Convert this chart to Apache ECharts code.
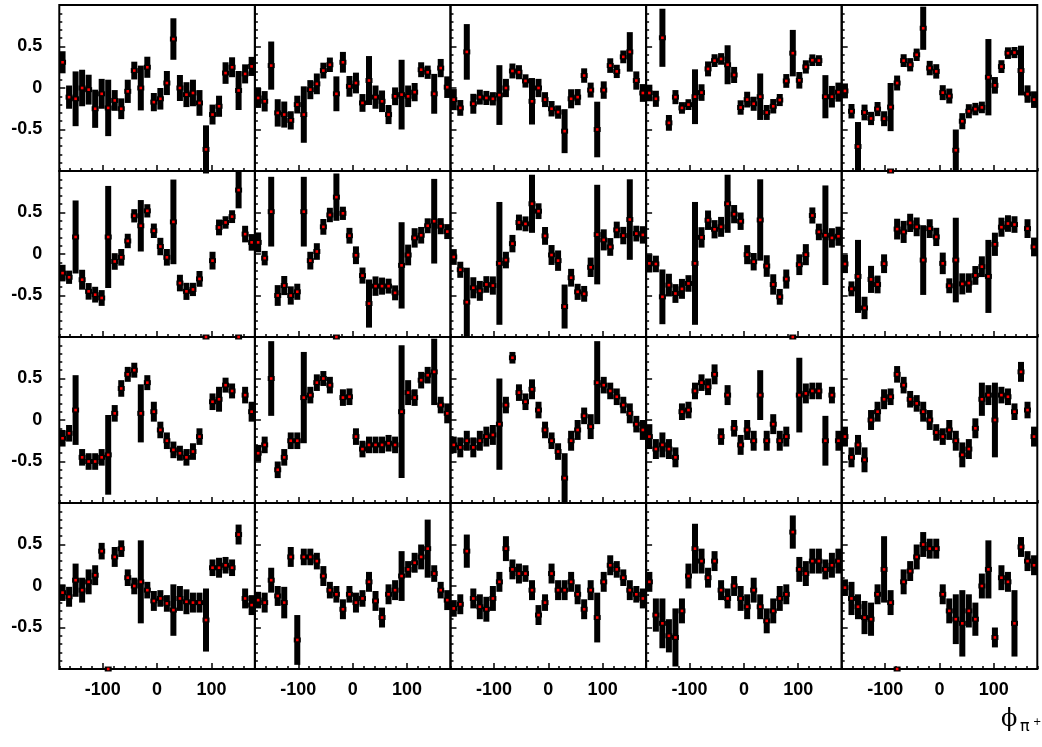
<!DOCTYPE html>
<html>
<head>
<meta charset="utf-8">
<script src="https://cdn.jsdelivr.net/npm/echarts@6/dist/echarts.min.js"></script>
<style>
html,body{margin:0;padding:0;background:#fff;}
#chart{width:1042px;height:747px;}
</style>
</head>
<body>
<div id="chart"></div>
<script>
// phi bin centres (deg), 30 bins of 12 deg
const phiBins = [-174,-162,-150,-138,-126,-114,-102,-90,-78,-66,-54,-42,-30,-18,-6,6,18,30,42,54,66,78,90,102,114,126,138,150,162,174];
const xMajorTicks = [-100, 0, 100];
const yMajorTicks = [-0.5, 0, 0.5];

// asymmetry values and errors, panel (row, column); +-1 with zero error sits on the frame edge
const val_1_1 = [0.31,-0.11,-0.13,0.0,-0.02,-0.25,-0.07,-0.24,-0.15,-0.25,-0.04,0.21,0.0,0.25,-0.17,-0.13,0.06,0.59,0.0,-0.08,-0.06,-0.18,-0.74,-0.32,-0.22,0.18,0.25,-0.03,0.17,0.26];
const err_1_1 = [0.133,0.14,0.33,0.22,0.18,0.23,0.18,0.34,0.125,0.125,0.14,0.107,0.27,0.127,0.11,0.13,0.145,0.25,0.157,0.15,0.16,0.155,0.29,0.12,0.127,0.13,0.12,0.235,0.115,0.115];
const val_1_2 = [-0.12,-0.16,0.27,-0.30,-0.32,-0.39,-0.2,-0.32,-0.02,0.05,0.21,0.28,-0.07,0.31,0.02,0.06,-0.18,0.09,-0.11,-0.16,-0.32,-0.10,-0.08,-0.10,-0.05,0.22,0.19,-0.07,0.24,0.01];
const err_1_2 = [0.12,0.123,0.29,0.165,0.157,0.11,0.107,0.34,0.115,0.125,0.095,0.087,0.21,0.125,0.125,0.125,0.107,0.295,0.14,0.13,0.115,0.107,0.42,0.13,0.11,0.09,0.08,0.24,0.11,0.13];
const val_1_3 = [-0.14,-0.24,0.435,-0.19,-0.11,-0.12,-0.13,-0.085,0.0,0.205,0.19,0.085,-0.16,0.0,-0.14,-0.25,-0.29,-0.52,-0.13,-0.11,0.15,-0.025,-0.50,-0.025,0.27,0.20,0.375,0.435,0.09,-0.06];
const err_1_3 = [0.127,0.095,0.335,0.12,0.09,0.085,0.08,0.36,0.11,0.09,0.085,0.08,0.28,0.11,0.09,0.093,0.08,0.265,0.115,0.097,0.087,0.09,0.335,0.105,0.088,0.08,0.077,0.238,0.11,0.107];
const val_1_4 = [-0.06,-0.13,0.605,-0.42,-0.11,-0.24,-0.2,-0.105,-0.055,0.23,0.33,0.35,0.28,0.157,-0.235,-0.14,-0.19,-0.105,-0.295,-0.22,-0.145,0.085,0.42,0.093,0.254,0.335,0.33,-0.105,-0.105,-0.05];
const err_1_4 = [0.1,0.097,0.35,0.095,0.085,0.07,0.065,0.33,0.1,0.09,0.077,0.07,0.235,0.097,0.087,0.095,0.085,0.28,0.09,0.087,0.073,0.083,0.28,0.1,0.08,0.07,0.065,0.26,0.13,0.115];
const val_1_5 = [-0.035,-0.28,-0.705,-0.295,-0.367,-0.254,-0.37,-0.23,0.06,0.33,0.28,0.40,0.72,0.24,0.20,-0.056,-0.097,-0.75,-0.40,-0.28,-0.254,-0.234,0.13,0.032,0.258,0.42,0.427,0.21,-0.073,-0.14];
const err_1_5 = [0.09,0.087,0.295,0.095,0.08,0.085,0.09,0.29,0.09,0.077,0.08,0.075,0.26,0.087,0.087,0.09,0.09,0.25,0.097,0.085,0.075,0.07,0.46,0.1,0.077,0.07,0.067,0.30,0.105,0.1];

const val_2_1 = [-0.23,-0.28,0.205,-0.31,-0.45,-0.49,-0.53,0.205,-0.09,-0.04,0.157,0.46,0.34,0.52,0.28,0.09,-0.04,0.387,-0.35,-0.45,-0.427,-0.3,-1.0,-0.08,0.32,0.38,0.45,0.77,0.24,0.14];
const err_2_1 = [0.1,0.08,0.44,0.12,0.1,0.095,0.095,0.615,0.1,0.1,0.087,0.08,0.31,0.08,0.087,0.105,0.1,0.51,0.1,0.103,0.08,0.095,0,0.107,0.095,0.075,0.077,0.22,0.1,0.1];
const val_2_2 = [0.14,-0.05,0.51,-0.5,-0.38,-0.5,-0.455,0.51,-0.08,0.03,0.327,0.47,0.685,0.49,0.22,-0.015,-0.26,-0.597,-0.387,-0.387,-0.387,-0.468,-0.137,-0.012,0.194,0.226,0.34,0.395,0.335,0.27];
const err_2_2 = [0.12,0.087,0.42,0.125,0.115,0.11,0.097,0.42,0.107,0.1,0.095,0.087,0.285,0.08,0.095,0.107,0.097,0.29,0.117,0.103,0.09,0.09,0.52,0.125,0.117,0.1,0.09,0.51,0.097,0.09];
const val_2_3 = [-0.036,-0.19,-0.58,-0.407,-0.444,-0.367,-0.38,-0.113,-0.073,0.125,0.38,0.363,0.605,0.516,0.218,-0.012,-0.08,-0.633,-0.286,-0.456,-0.48,-0.16,0.234,0.17,0.085,0.29,0.222,0.415,0.246,0.23];
const err_2_3 = [0.095,0.097,0.415,0.127,0.12,0.1,0.11,0.74,0.1,0.105,0.095,0.09,0.35,0.095,0.107,0.12,0.123,0.265,0.107,0.097,0.095,0.117,0.6,0.127,0.107,0.1,0.105,0.485,0.095,0.105];
const val_2_4 = [-0.113,-0.12,-0.516,-0.375,-0.476,-0.42,-0.355,-0.113,0.2,0.407,0.298,0.327,0.605,0.48,0.395,-0.008,-0.093,0.41,-0.145,-0.367,-0.516,-0.302,-1.0,-0.129,-0.008,0.464,0.266,0.226,0.194,0.214];
const err_2_4 = [0.11,0.1,0.33,0.137,0.113,0.12,0.1,0.74,0.123,0.117,0.11,0.12,0.35,0.11,0.105,0.115,0.105,0.49,0.13,0.123,0.095,0.115,0,0.125,0.127,0.097,0.1,0.6,0.117,0.115];
const val_2_5 = [-0.12,-0.42,-0.27,-0.65,-0.306,-0.367,-0.117,1.0,0.3,0.266,0.375,0.327,-0.073,0.306,0.206,-0.113,-0.383,-0.073,-0.36,-0.35,-0.258,-0.153,-0.27,0.117,0.323,0.367,0.355,null,0.306,0.085];
const err_2_5 = [0.11,0.09,0.44,0.135,0.163,0.107,0.113,0,0.125,0.133,0.11,0.113,0.42,0.113,0.11,0.13,0.09,0.51,0.127,0.117,0.113,0.125,0.44,0.14,0.115,0.1,0.1,0,0.113,0.113];

const val_3_1 = [-0.22,-0.16,0.12,-0.45,-0.5,-0.5,-0.45,-0.42,0.08,0.38,0.55,0.6,0.08,0.45,0.1,-0.12,-0.25,-0.36,-0.4,-0.45,-0.38,-0.2,null,0.22,0.25,0.42,0.35,1.0,0.3,0.1];
const err_3_1 = [0.1,0.1,0.42,0.1,0.1,0.1,0.1,0.48,0.1,0.1,0.09,0.09,0.35,0.09,0.12,0.1,0.1,0.1,0.09,0.1,0.1,0.1,0,0.1,0.15,0.09,0.09,0,0.1,0.12];
const val_3_2 = [-0.4,-0.3,0.5,-0.6,-0.45,-0.25,-0.25,0.27,0.3,0.45,0.5,0.42,1.0,0.27,0.28,-0.2,-0.35,-0.3,-0.3,-0.3,-0.28,-0.3,0.1,0.33,0.27,0.48,0.54,0.58,0.18,0.08];
const err_3_2 = [0.1,0.1,0.45,0.1,0.1,0.1,0.1,0.55,0.1,0.1,0.09,0.1,0,0.1,0.1,0.1,0.1,0.1,0.1,0.1,0.1,0.1,0.8,0.15,0.1,0.1,0.1,0.4,0.1,0.12];
const val_3_3 = [-0.3,-0.33,-0.25,-0.33,-0.25,-0.2,-0.18,-0.05,0.18,0.75,0.33,0.22,0.37,0.12,-0.12,-0.25,-0.38,-0.7,-0.25,-0.12,0.05,-0.08,0.45,0.42,0.35,0.28,0.18,0.08,-0.05,-0.12];
const err_3_3 = [0.1,0.12,0.12,0.12,0.12,0.12,0.12,0.55,0.1,0.07,0.1,0.1,0.12,0.1,0.1,0.1,0.1,0.3,0.12,0.12,0.1,0.15,0.5,0.1,0.1,0.1,0.1,0.12,0.1,0.12];
const val_3_4 = [-0.2,-0.35,-0.3,-0.35,-0.45,0.1,0.12,0.35,0.45,0.4,0.55,-0.2,0.3,-0.1,-0.3,-0.12,-0.25,0.3,-0.25,-0.05,-0.25,-0.2,null,0.3,0.32,0.35,0.35,-0.25,0.3,-0.25];
const err_3_4 = [0.15,0.12,0.15,0.12,0.12,0.1,0.1,0.1,0.1,0.1,0.12,0.1,0.12,0.1,0.12,0.12,0.12,0.3,0.12,0.12,0.12,0.12,0,0.45,0.12,0.1,0.1,0.3,0.1,0.12];
const val_3_5 = [-0.2,-0.45,-0.3,-0.48,0.0,0.1,0.25,0.28,0.55,0.42,0.25,0.2,0.1,0.0,-0.15,-0.2,-0.12,-0.25,-0.42,-0.35,-0.1,0.25,0.3,0.0,0.3,0.28,0.1,0.58,0.12,-0.2];
const err_3_5 = [0.12,0.12,0.12,0.15,0.12,0.12,0.12,0.1,0.1,0.1,0.1,0.1,0.12,0.12,0.1,0.1,0.12,0.12,0.15,0.12,0.12,0.2,0.12,0.45,0.1,0.1,0.1,0.12,0.1,0.12];

const val_4_1 = [-0.08,-0.13,0.07,-0.05,0.05,0.13,0.42,-1.0,0.35,0.45,0.1,0.0,0.05,-0.05,-0.18,-0.15,-0.21,-0.29,-0.15,-0.19,-0.2,-0.2,-0.41,0.22,0.22,0.25,0.22,0.62,-0.15,-0.23];
const err_4_1 = [0.1,0.12,0.2,0.15,0.15,0.12,0.1,0,0.12,0.1,0.1,0.1,0.5,0.1,0.12,0.1,0.1,0.31,0.15,0.15,0.12,0.12,0.38,0.1,0.12,0.1,0.1,0.12,0.12,0.12];
const val_4_2 = [-0.17,-0.2,0.07,-0.12,-0.2,0.35,-0.65,0.35,0.35,0.3,0.12,-0.05,-0.1,-0.28,-0.1,-0.2,-0.15,0.05,-0.18,-0.38,-0.1,-0.05,0.12,0.2,0.28,0.35,0.45,0.15,-0.05,-0.17];
const err_4_2 = [0.1,0.12,0.15,0.12,0.19,0.12,0.3,0.1,0.1,0.1,0.12,0.1,0.1,0.12,0.1,0.12,0.1,0.12,0.12,0.12,0.12,0.12,0.3,0.1,0.12,0.15,0.35,0.1,0.1,0.12];
const val_4_3 = [-0.27,-0.22,0.42,-0.15,-0.25,-0.28,-0.15,0.05,0.45,0.2,0.15,0.15,-0.05,-0.35,-0.2,0.15,-0.05,-0.05,0.05,-0.1,-0.28,-0.05,-0.38,0.05,0.25,0.2,0.1,-0.05,-0.1,-0.15];
const err_4_3 = [0.1,0.12,0.2,0.12,0.15,0.15,0.15,0.12,0.15,0.12,0.12,0.1,0.12,0.12,0.1,0.12,0.12,0.12,0.12,0.12,0.12,0.12,0.3,0.12,0.12,0.1,0.1,0.12,0.1,0.12];
const val_4_4 = [0.05,-0.35,-0.45,-0.6,-0.62,-0.3,0.12,0.45,0.3,0.1,0.3,-0.05,-0.15,0.0,-0.15,-0.25,-0.05,-0.25,-0.42,-0.3,-0.15,-0.1,0.65,0.2,0.15,0.3,0.3,0.2,0.25,0.3];
const err_4_4 = [0.12,0.2,0.3,0.2,0.35,0.15,0.15,0.3,0.15,0.12,0.12,0.12,0.12,0.12,0.15,0.15,0.15,0.15,0.15,0.15,0.15,0.12,0.2,0.15,0.15,0.15,0.15,0.12,0.15,0.15];
const val_4_5 = [-0.02,-0.15,-0.25,-0.38,-0.4,-0.1,0.2,-0.2,-1.0,0.05,0.18,0.35,0.5,0.45,0.45,-0.1,-0.3,-0.4,-0.45,-0.3,-0.4,0.0,0.2,-0.62,0.1,0.05,-0.45,0.47,0.3,0.25];
const err_4_5 = [0.1,0.2,0.15,0.2,0.2,0.12,0.4,0.15,0,0.15,0.12,0.15,0.15,0.12,0.12,0.12,0.15,0.3,0.4,0.2,0.2,0.15,0.35,0.12,0.15,0.12,0.4,0.12,0.12,0.12];

const panelValues = [
  [val_1_1, val_1_2, val_1_3, val_1_4, val_1_5],
  [val_2_1, val_2_2, val_2_3, val_2_4, val_2_5],
  [val_3_1, val_3_2, val_3_3, val_3_4, val_3_5],
  [val_4_1, val_4_2, val_4_3, val_4_4, val_4_5]
];
const panelErrors = [
  [err_1_1, err_1_2, err_1_3, err_1_4, err_1_5],
  [err_2_1, err_2_2, err_2_3, err_2_4, err_2_5],
  [err_3_1, err_3_2, err_3_3, err_3_4, err_3_5],
  [err_4_1, err_4_2, err_4_3, err_4_4, err_4_5]
];

// layout of the 4 x 5 pad grid
const ROWS = 4, COLS = 5;
const PAD_LEFT = 59.3, PAD_TOP = 5, PAD_W = 195.6, PAD_H = 166;
const FONT = '"Liberation Sans", Arial, Helvetica, sans-serif';

// error bar + marker, drawn unclipped so points spill over pad edges
function renderPoint(params, api) {
  const x = api.value(0), y = api.value(1), e = api.value(2);
  const c = api.coord([x, y]);
  const children = [];
  if (e > 0) {
    const t = api.coord([x, y + e]);
    const b = api.coord([x, y - e]);
    children.push({ type: 'rect', shape: { x: c[0] - 3, y: t[1], width: 6, height: b[1] - t[1] }, style: { fill: '#000' } });
  }
  children.push({ type: 'rect', shape: { x: c[0] - 3.5, y: c[1] - 2.5, width: 7, height: 5 }, style: { fill: '#000' } });
  children.push({ type: 'rect', shape: { x: c[0] - 1.3, y: c[1] - 1.3, width: 2.6, height: 2.6 }, style: { fill: '#ff0000' } });
  return { type: 'group', children };
}

const grid = [], xAxis = [], yAxis = [], series = [];
const tickStyle = { color: '#000', width: 1.5 };
const labelStyle = { color: '#000', fontFamily: FONT, fontWeight: 'bold', fontSize: 18 };
const hiddenLine = { show: false, onZero: false };

for (let r = 0; r < ROWS; r++) {
  for (let c = 0; c < COLS; c++) {
    const k = r * COLS + c;
    grid.push({
      left: PAD_LEFT + c * PAD_W, top: PAD_TOP + r * PAD_H, width: PAD_W, height: PAD_H,
      show: true, borderColor: '#000', borderWidth: 2, backgroundColor: 'transparent'
    });
    // minor ticks
    xAxis.push({
      type: 'value', gridIndex: k, position: 'bottom', min: -180, max: 180, interval: 20,
      axisLine: hiddenLine, splitLine: { show: false },
      axisTick: { show: true, inside: true, length: 3, lineStyle: tickStyle },
      axisLabel: { show: false }
    });
    // major ticks and labels
    xAxis.push({
      type: 'value', gridIndex: k, position: 'bottom', min: -180, max: 180,
      axisLine: hiddenLine, splitLine: { show: false },
      axisTick: { show: true, inside: true, length: 6, lineStyle: tickStyle, customValues: xMajorTicks },
      axisLabel: Object.assign({ show: r === ROWS - 1, margin: 12, customValues: xMajorTicks }, labelStyle)
    });
    yAxis.push({
      type: 'value', gridIndex: k, position: 'left', min: -1, max: 1, interval: 0.1,
      axisLine: hiddenLine, splitLine: { show: false },
      axisTick: { show: true, inside: true, length: 3, lineStyle: tickStyle },
      axisLabel: { show: false }
    });
    yAxis.push({
      type: 'value', gridIndex: k, position: 'left', min: -1, max: 1,
      axisLine: hiddenLine, splitLine: { show: false },
      axisTick: { show: true, inside: true, length: 6, lineStyle: tickStyle, customValues: yMajorTicks },
      axisLabel: Object.assign({ show: c === 0, margin: 17, customValues: yMajorTicks }, labelStyle)
    });
    const vals = panelValues[r][c], errs = panelErrors[r][c];
    const data = [];
    for (let i = 0; i < phiBins.length; i++) {
      if (vals[i] === null || vals[i] === undefined) continue;
      data.push([phiBins[i], vals[i], errs[i]]);
    }
    series.push({
      type: 'custom', xAxisIndex: 2 * k, yAxisIndex: 2 * k, clip: false,
      renderItem: renderPoint, data: data, z: 5, silent: true
    });
  }
}

const chart = echarts.init(document.getElementById('chart'), null, { renderer: 'canvas' });
chart.setOption({
  backgroundColor: '#fff',
  animation: false,
  grid, xAxis, yAxis, series,
  graphic: [
    { type: 'text', left: 1001, top: 708, style: { text: 'ϕ', font: '24px "DejaVu Serif", serif', fill: '#000' } },
    { type: 'text', left: 1020, top: 719, style: { text: 'π', font: '16px "DejaVu Sans", sans-serif', fill: '#000' } },
    { type: 'text', left: 1033, top: 717, style: { text: '+', font: '10px "DejaVu Sans", sans-serif', fill: '#000' } }
  ]
});
</script>
</body>
</html>
